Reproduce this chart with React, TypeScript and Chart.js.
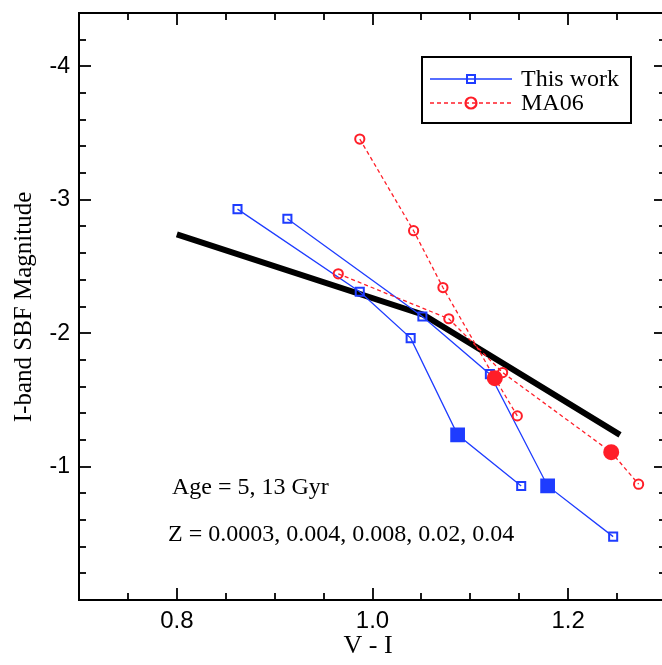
import React, { useEffect, useRef } from 'react';
import { Chart, registerables } from 'chart.js';

Chart.register(...registerables);

// ---- data ----
const zValues = [0.0003, 0.004, 0.008, 0.02, 0.04];
const solarIndex = 3; // Z = 0.02 drawn filled

const thisWork5GyrVI = [0.862, 0.987, 1.039, 1.087, 1.152];
const thisWork5GyrSBF = [-2.93, -2.31, -1.963, -1.238, -0.855];
const thisWork13GyrVI = [0.913, 1.051, 1.12, 1.179, 1.246];
const thisWork13GyrSBF = [-2.858, -2.125, -1.693, -0.855, -0.475];

const ma06_5GyrVI = [0.987, 1.042, 1.072, 1.125, 1.148];
const ma06_5GyrSBF = [-3.455, -2.768, -2.342, -1.663, -1.38];
const ma06_13GyrVI = [0.965, 1.078, 1.133, 1.244, 1.272];
const ma06_13GyrSBF = [-2.445, -2.108, -1.705, -1.108, -0.868];

const fitVI = [0.8, 1.052, 1.253];
const fitSBF = [-2.74, -2.138, -1.238];

const xMajorTicks = [0.8, 1.0, 1.2];
const xTickLabels = ['0.8', '1.0', '1.2'];
const yMajorTicks = [-4, -3, -2, -1];
const yTickLabels = ['-4', '-3', '-2', '-1'];

const xMin = 0.7, xMax = 1.3, xMinorStep = 0.05;
const yMin = -4.4, yMax = 0, yMinorStep = 0.2;

const legendLabels = ['This work', 'MA06'];
const annotationAge = 'Age = 5, 13 Gyr';
const annotationZ = 'Z = ' + zValues.join(', ');
const xTitle = 'V - I';
const yTitle = 'I-band SBF Magnitude';

const BLUE = '#1e3cff';
const RED = '#ff1e28';
const SERIF = '"Liberation Serif", "Times New Roman", serif';
const SANS = '"Liberation Sans", Arial, sans-serif';

const toPts = (xs: number[], ys: number[]) => xs.map((v, i) => ({ x: v, y: ys[i] }));

function blueSet(label: string, xs: number[], ys: number[]) {
  return {
    label,
    data: toPts(xs, ys),
    showLine: true,
    borderColor: BLUE,
    borderWidth: 1.3,
    pointStyle: 'rect',
    pointRadius: xs.map((_, i) => (i === solarIndex ? 9 : 5.7)),
    pointBorderWidth: 2,
    pointBorderColor: BLUE,
    pointBackgroundColor: xs.map((_, i) => (i === solarIndex ? BLUE : 'rgba(0,0,0,0)')),
  };
}

function redSet(label: string, xs: number[], ys: number[]) {
  return {
    label,
    data: toPts(xs, ys),
    showLine: true,
    borderColor: RED,
    borderWidth: 1.3,
    borderDash: [4, 3],
    pointStyle: 'circle',
    pointRadius: xs.map((_, i) => (i === solarIndex ? 7 : 4.6)),
    pointBorderWidth: 2,
    pointBorderColor: RED,
    pointBackgroundColor: xs.map((_, i) => (i === solarIndex ? RED : 'rgba(0,0,0,0)')),
  };
}

const framePlugin = {
  id: 'framePlugin',
  afterDraw(chart: any) {
    const { ctx, chartArea: a } = chart;
    const xs = chart.scales.x;
    const ys = chart.scales.y;
    ctx.save();
    ctx.strokeStyle = '#000';
    ctx.lineWidth = 2;
    ctx.strokeRect(a.left, a.top, a.right - a.left, a.bottom - a.top);

    const line = (x1: number, y1: number, x2: number, y2: number) => {
      ctx.beginPath();
      ctx.moveTo(x1, y1);
      ctx.lineTo(x2, y2);
      ctx.stroke();
    };
    const isMajor = (v: number, majors: number[]) => majors.some((m) => Math.abs(m - v) < 1e-6);

    ctx.lineWidth = 1.8;
    const nx = Math.round((xMax - xMin) / xMinorStep);
    for (let i = 1; i < nx; i++) {
      const v = xMin + i * xMinorStep;
      const len = isMajor(v, xMajorTicks) ? 12 : 7;
      const px = Math.round(xs.getPixelForValue(v));
      line(px, a.bottom, px, a.bottom - len);
      line(px, a.top, px, a.top + len);
    }
    const ny = Math.round((yMax - yMin) / yMinorStep);
    for (let i = 1; i < ny; i++) {
      const v = yMin + i * yMinorStep;
      const len = isMajor(v, yMajorTicks) ? 12 : 7;
      const py = Math.round(ys.getPixelForValue(v));
      line(a.left, py, a.left + len, py);
      line(a.right, py, a.right - len, py);
    }

    // annotations
    ctx.fillStyle = '#000';
    ctx.font = '24px ' + SERIF;
    ctx.textAlign = 'left';
    ctx.textBaseline = 'alphabetic';
    ctx.fillText(annotationAge, 172, 494);
    ctx.fillText(annotationZ, 168, 541);

    // axis titles
    ctx.font = '26px ' + SERIF;
    ctx.textAlign = 'center';
    ctx.textBaseline = 'middle';
    ctx.fillText(xTitle, 368, 646);
    ctx.font = '25px ' + SERIF;
    ctx.save();
    ctx.translate(24, 307);
    ctx.rotate(-Math.PI / 2);
    ctx.fillText(yTitle, 0, 0);
    ctx.restore();

    // legend
    const lx = 422, ly = 57, lw = 209, lh = 66;
    ctx.fillStyle = '#fff';
    ctx.fillRect(lx, ly, lw, lh);
    ctx.lineWidth = 2;
    ctx.strokeStyle = '#000';
    ctx.strokeRect(lx, ly, lw, lh);

    const row1 = 79, row2 = 103;
    ctx.lineWidth = 1.3;
    ctx.strokeStyle = BLUE;
    line(430, row1, 512, row1);
    ctx.lineWidth = 2;
    ctx.strokeRect(467, row1 - 4, 8, 8);

    ctx.strokeStyle = RED;
    ctx.lineWidth = 1.3;
    ctx.setLineDash([4, 3]);
    line(430, row2, 512, row2);
    ctx.setLineDash([]);
    ctx.lineWidth = 2.2;
    ctx.beginPath();
    ctx.arc(471, row2, 5.5, 0, Math.PI * 2);
    ctx.stroke();

    ctx.fillStyle = '#000';
    ctx.font = '24px ' + SERIF;
    ctx.textAlign = 'left';
    ctx.textBaseline = 'alphabetic';
    ctx.fillText(legendLabels[0], 521, 86);
    ctx.fillText(legendLabels[1], 521, 110);
    ctx.restore();
  },
};

export default function App() {
  const ref = useRef<HTMLCanvasElement | null>(null);

  useEffect(() => {
    if (!ref.current) return;
    const chart = new Chart(ref.current, {
      type: 'scatter',
      data: {
        datasets: [
          redSet(legendLabels[1] + ' 5 Gyr', ma06_5GyrVI, ma06_5GyrSBF),
          redSet(legendLabels[1] + ' 13 Gyr', ma06_13GyrVI, ma06_13GyrSBF),
          blueSet(legendLabels[0] + ' 5 Gyr', thisWork5GyrVI, thisWork5GyrSBF),
          blueSet(legendLabels[0] + ' 13 Gyr', thisWork13GyrVI, thisWork13GyrSBF),
          {
            label: 'fit',
            data: toPts(fitVI, fitSBF),
            showLine: true,
            borderColor: '#000',
            borderWidth: 6,
            pointRadius: 0,
            borderCapStyle: 'butt',
          } as any,
        ] as any,
      },
      options: {
        responsive: false,
        animation: false,
        devicePixelRatio: 1,
        layout: { padding: { top: 13, right: 14, left: 0, bottom: 0 } },
        plugins: { legend: { display: false }, tooltip: { enabled: false } },
        scales: {
          x: {
            type: 'linear',
            min: xMin,
            max: xMax,
            grid: { display: false, drawTicks: false },
            border: { display: false },
            afterBuildTicks: (axis: any) => {
              axis.ticks = xMajorTicks.map((v) => ({ value: v }));
            },
            afterFit: (scale: any) => {
              scale.height = 65;
              scale.paddingLeft = 0;
              scale.paddingRight = 0;
            },
            ticks: {
              padding: 9,
              color: '#000',
              font: { family: SANS, size: 24, lineHeight: 1 },
              maxRotation: 0,
              autoSkip: false,
              callback: (_v: any, i: number) => xTickLabels[i],
            },
          },
          y: {
            type: 'linear',
            min: yMin,
            max: yMax,
            reverse: true,
            grid: { display: false, drawTicks: false },
            border: { display: false },
            afterBuildTicks: (axis: any) => {
              axis.ticks = yMajorTicks.map((v) => ({ value: v }));
            },
            afterFit: (scale: any) => {
              scale.width = 79;
              scale.paddingTop = 0;
              scale.paddingBottom = 0;
            },
            ticks: {
              padding: 9,
              color: '#000',
              font: { family: SANS, size: 23, lineHeight: 1 },
              autoSkip: false,
              callback: (_v: any, i: number) => yTickLabels[i],
            },
          },
        },
      },
      plugins: [framePlugin],
    });
    return () => chart.destroy();
  }, []);

  return (
    <div
      style={{
        position: 'absolute',
        left: 0,
        top: 0,
        width: 662,
        height: 665,
        overflow: 'hidden',
        background: '#fff',
      }}
    >
      <canvas ref={ref} width={680} height={665} style={{ display: 'block', width: 680, height: 665 }} />
    </div>
  );
}
